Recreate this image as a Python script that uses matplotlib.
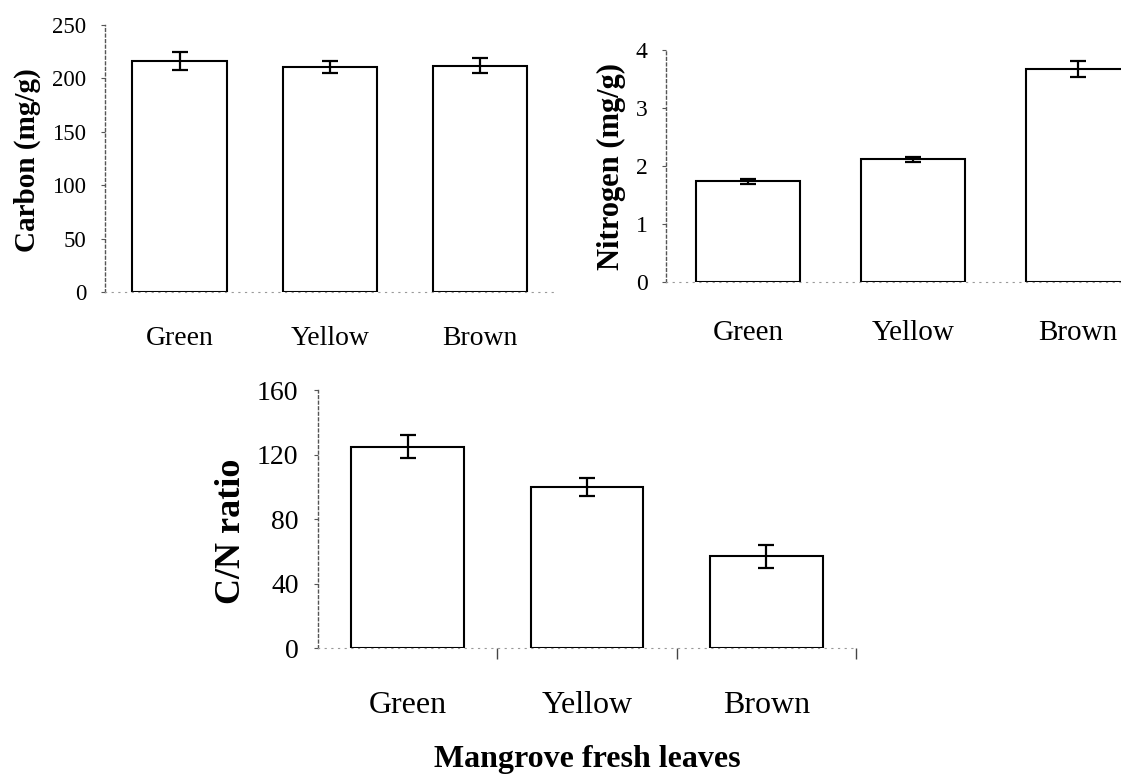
import matplotlib
matplotlib.use("Agg")
import matplotlib.pyplot as plt

categories = ["Green", "Yellow", "Brown"]
carbon = [216, 211, 212]
carbon_err = [8.4, 5.6, 6.8]
nitrogen = [1.73, 2.11, 3.67]
nitrogen_err = [0.04, 0.04, 0.14]
cn_ratio = [125, 100, 57]
cn_err = [7.2, 5.7, 7.2]

plt.rcParams['font.family'] = ['Liberation Serif', 'DejaVu Serif']

fig = plt.figure(figsize=(11.21, 7.79), dpi=100)

W, H = 1121, 779
PT = 100 / 72.0  # pixels per point

def pos(left, right, top, bottom):
    return [left / W, 1 - bottom / H, (right - left) / W, (bottom - top) / H]

def style(ax, ticks, tick_fs, tick_pad, xlabel_fs, baseline_px):
    for s in ["top", "right"]:
        ax.spines[s].set_visible(False)
    ax.spines["left"].set_linestyle((0, (2, 2)))
    ax.spines["left"].set_color("#555555")
    ax.spines["left"].set_linewidth(1.0)
    ax.spines["bottom"].set_linestyle((0, (1, 5)))
    ax.spines["bottom"].set_color("#999999")
    ax.spines["bottom"].set_linewidth(0.8)
    ax.set_yticks(ticks)
    ax.tick_params(axis="y", length=3, width=0.8, color="#555555",
                   labelsize=tick_fs, pad=tick_pad)
    ax.set_xticks(range(len(categories)))
    ax.set_xticklabels(categories, fontsize=xlabel_fs, va="baseline")
    ax.tick_params(axis="x", which="major", length=0, pad=baseline_px / PT)
    ax.set_xlim(-0.5, len(categories) - 0.5)

bar_kw = dict(width=0.63, color="white", edgecolor="black", linewidth=1.5,
              error_kw=dict(ecolor="black", elinewidth=1.6, capsize=6, capthick=1.6),
              zorder=2)

# Carbon
ax1 = fig.add_axes(pos(104.6, 555, 25, 292.3))
ax1.bar(range(3), carbon, yerr=carbon_err, **bar_kw)
ax1.set_ylim(0, 250)
style(ax1, [0, 50, 100, 150, 200, 250], 16.5, 10, 20, 53)
fig.text(27 / W, 1 - 160 / H, "Carbon (mg/g)", rotation=90, fontsize=21,
         fontweight="bold", ha="center", va="center")

# Nitrogen
ax2 = fig.add_axes(pos(665.5, 1160, 50, 281.7))
ax2.bar(range(3), nitrogen, yerr=nitrogen_err, **bar_kw)
ax2.set_ylim(0, 4)
style(ax2, [0, 1, 2, 3, 4], 17, 10, 21, 58)
fig.text(611 / W, 1 - 167 / H, "Nitrogen (mg/g)", rotation=90, fontsize=22,
         fontweight="bold", ha="center", va="center")

# C/N ratio
ax3 = fig.add_axes(pos(318, 856, 390, 648.3))
ax3.bar(range(3), cn_ratio, yerr=cn_err, **bar_kw)
ax3.set_ylim(0, 160)
style(ax3, [0, 40, 80, 120, 160], 20, 11, 23, 65)
ax3.set_xticks([0.5, 1.5, 2.5], minor=True)
ax3.tick_params(axis="x", which="minor", length=8, width=1.0, color="#444444", direction="out")
fig.text(232 / W, 1 - 531 / H, "C/N ratio", rotation=90, fontsize=26,
         fontweight="bold", ha="center", va="center")
fig.text(587.5 / W, 1 - 766.7 / H, "Mangrove fresh leaves", fontsize=23,
         fontweight="bold", ha="center", va="baseline")

fig.savefig("out.png", dpi=100)
